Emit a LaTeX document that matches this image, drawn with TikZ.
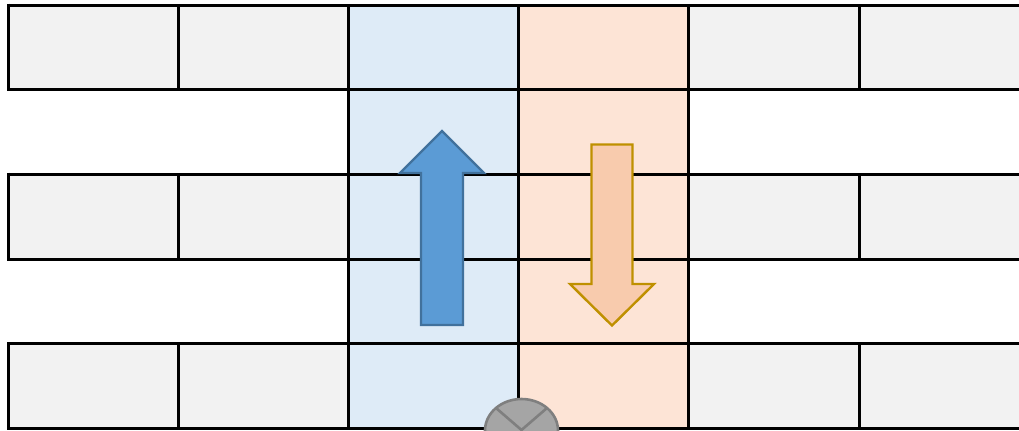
\documentclass[tikz,border=0pt]{standalone}
\definecolor{cellgray}{HTML}{F2F2F2}
\definecolor{laneblue}{HTML}{DEEBF7}
\definecolor{lanepeach}{HTML}{FDE4D6}
\definecolor{arrowblue}{HTML}{5B9BD5}
\definecolor{arrowblueline}{HTML}{41719C}
\definecolor{arrowpeach}{HTML}{F8CBAD}
\definecolor{arrowpeachline}{HTML}{BF9000}
\definecolor{discfill}{HTML}{A5A5A5}
\definecolor{discline}{HTML}{7F7F7F}
\tikzset{
  gridline/.style={draw=black,line width=3bp},
  flowarrow/.style={line width=2.4bp,miter limit=10},
  discstroke/.style={draw=discline,line width=2.6bp}
}
\begin{document}
\begin{tikzpicture}[x=1bp,y=-1bp]
\useasboundingbox (0,0) rectangle (1019,430);
\clip (0,0) rectangle (1019,430);
% fills
\fill[cellgray] (8.5,5.5) rectangle (1019,89.5);
\fill[cellgray] (8.5,174) rectangle (1019,259);
\fill[cellgray] (8.5,343.5) rectangle (1019,428.5);
\fill[laneblue] (348.5,5.5) rectangle (518.5,428.5);
\fill[lanepeach] (518.5,5.5) rectangle (688.5,428.5);
% horizontal lines
\foreach \yy in {5.5,89.5,174,259,343.5,428.5}
  \draw[gridline] (8.5,\yy) -- (1019,\yy);
% vertical lines
\foreach \xx in {348.5,518.5,688.5}
  \draw[gridline] (\xx,4) -- (\xx,430);
\foreach \xx in {178.5,859}
  \foreach \yy/\yz in {5.5/89.5,174/259,343.5/428.5}
    \draw[gridline] (\xx,\yy) -- (\xx,\yz);
\foreach \yy/\yz in {3.5/91,172.5/260.5,342/430}
  \draw[gridline] (8.5,\yy) -- (8.5,\yz);
% arrows
\draw[flowarrow,draw=arrowblueline,fill=arrowblue]
  (442,131) -- (484,173) -- (463,173) -- (463,325) -- (421,325) -- (421,173) -- (400,173) -- cycle;
\draw[flowarrow,draw=arrowpeachline,fill=arrowpeach]
  (591.5,144.5) -- (632.5,144.5) -- (632.5,284) -- (654,284) -- (612,325.5) -- (570,284) -- (591.5,284) -- cycle;
% disc
\draw[discstroke,fill=discfill] (521.5,430.5) ellipse [x radius=36.5,y radius=31.5];
\draw[discstroke] (496,408) -- (521.5,430) -- (547,408);
\end{tikzpicture}
\end{document}
